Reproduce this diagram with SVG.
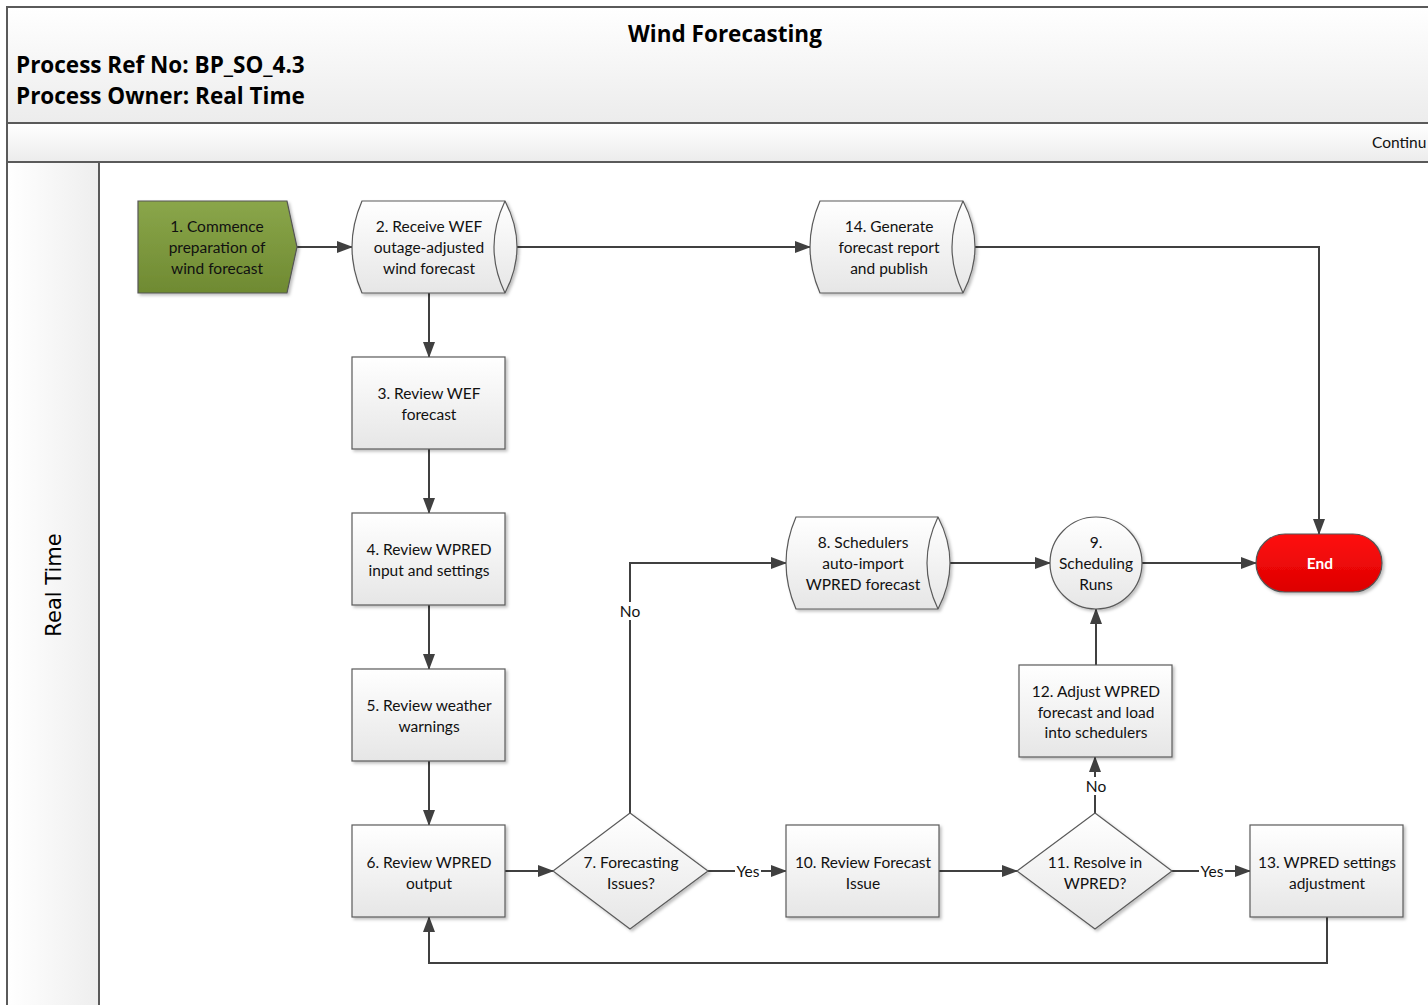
<svg xmlns="http://www.w3.org/2000/svg" width="1428" height="1005" viewBox="0 0 1428 1005">
<style>
.frame{fill:none;stroke:#5a5a5a;stroke-width:2}
.node{stroke:#5a5a5a;stroke-width:1.2;fill:url(#gNode);filter:url(#sh)}
.t{font-family:Lato,"Liberation Sans",sans-serif;font-size:15.5px;fill:#111;text-anchor:middle}
.lbl{font-family:Lato,"Liberation Sans",sans-serif;font-size:15.5px;fill:#111;text-anchor:middle}
.hd{font-family:"Open Sans","Liberation Sans",sans-serif;font-weight:bold;font-size:22.5px;fill:#000}
.c{fill:none;stroke:#404040;stroke-width:2}
</style>
<defs>
<linearGradient id="gNode" x1="0" y1="0" x2="0" y2="1"><stop offset="0" stop-color="#ffffff"/><stop offset="1" stop-color="#e6e6e6"/></linearGradient>
<linearGradient id="gHead" x1="0" y1="0" x2="0" y2="1"><stop offset="0" stop-color="#ffffff"/><stop offset="1" stop-color="#ececec"/></linearGradient>
<linearGradient id="gLane" x1="0" y1="0" x2="1" y2="0"><stop offset="0" stop-color="#ffffff"/><stop offset="1" stop-color="#eeeeee"/></linearGradient>
<linearGradient id="gGreen" x1="0" y1="0" x2="0" y2="1"><stop offset="0" stop-color="#8aa64a"/><stop offset="1" stop-color="#6f8a32"/></linearGradient>
<linearGradient id="gRed" x1="0" y1="0" x2="0" y2="1"><stop offset="0" stop-color="#ff1010"/><stop offset="1" stop-color="#dd0000"/></linearGradient>
<filter id="sh" x="-10%" y="-10%" width="130%" height="130%"><feDropShadow dx="2" dy="2" stdDeviation="1.5" flood-color="#000" flood-opacity="0.25"/></filter>
<marker id="ah" markerWidth="16" markerHeight="12" refX="15" refY="6" orient="auto" markerUnits="userSpaceOnUse"><path d="M0,0 L16,6 L0,12 z" fill="#404040"/></marker>
</defs>

<g id="frame">
<rect x="7" y="7" width="1440" height="1020" fill="#ffffff" stroke="none"/>
<rect x="7" y="7" width="1440" height="116" fill="url(#gHead)" stroke="none"/>
<rect x="7" y="123" width="1440" height="39" fill="url(#gHead)" stroke="none"/>
<rect x="7" y="162" width="92" height="860" fill="url(#gLane)" stroke="none"/>
<path class="frame" d="M1430,7 H7 V1010 M7,123 H1430 M7,162 H1430 M99,162 V1010"/>
<text class="hd" x="725" y="42" text-anchor="middle">Wind Forecasting</text>
<text class="hd" x="16" y="73">Process Ref No: BP_SO_4.3</text>
<text class="hd" x="16" y="104">Process Owner: Real Time</text>
<text x="1372" y="148" font-family="Lato,'Liberation Sans',sans-serif" font-size="15.5" fill="#111">Continu</text>
<text x="0" y="0" transform="translate(61,585) rotate(-90)" text-anchor="middle" font-family="'DejaVu Sans','Liberation Sans',sans-serif" font-size="21" fill="#000">Real Time</text>
</g>

<g id="connectors">
<path class="c" d="M297,247 H352" marker-end="url(#ah)"/>
<path class="c" d="M505,247 H810" marker-end="url(#ah)"/>
<path class="c" d="M963,247 H1319 V534" marker-end="url(#ah)"/>
<path class="c" d="M429,293 V357" marker-end="url(#ah)"/>
<path class="c" d="M429,449 V513" marker-end="url(#ah)"/>
<path class="c" d="M429,605 V669" marker-end="url(#ah)"/>
<path class="c" d="M429,761 V825" marker-end="url(#ah)"/>
<path class="c" d="M505,871 H553" marker-end="url(#ah)"/>
<path class="c" d="M708,871 H786" marker-end="url(#ah)"/>
<path class="c" d="M630,813 V563 H786" marker-end="url(#ah)"/>
<path class="c" d="M938,563 H1050" marker-end="url(#ah)"/>
<path class="c" d="M1142,563 H1256" marker-end="url(#ah)"/>
<path class="c" d="M939,871 H1017" marker-end="url(#ah)"/>
<path class="c" d="M1095,813 V757" marker-end="url(#ah)"/>
<path class="c" d="M1172,871 H1250" marker-end="url(#ah)"/>
<path class="c" d="M1096,665 V609" marker-end="url(#ah)"/>
<path class="c" d="M1327,917 V963 H429 V917" marker-end="url(#ah)"/>
<rect x="735" y="863" width="26" height="16" fill="#fff"/>
<text class="lbl" x="748" y="877">Yes</text>
<rect x="1199" y="863" width="26" height="16" fill="#fff"/>
<text class="lbl" x="1212" y="877">Yes</text>
<rect x="619" y="602" width="22" height="18" fill="#fff"/>
<text class="lbl" x="630" y="617">No</text>
<rect x="1085" y="777" width="22" height="18" fill="#fff"/>
<text class="lbl" x="1096" y="792">No</text>
</g>

<g id="n1">
<path d="M138,201 H287 L297,247 L287,293 H138 Z" fill="url(#gGreen)" stroke="#555" stroke-width="1.2" filter="url(#sh)"/>
<text class="t" x="217" y="232">1. Commence</text>
<text class="t" x="217" y="253">preparation of</text>
<text class="t" x="217" y="274">wind forecast</text>
</g>

<g id="n2">
<path class="node" d="M362,201 H505 Q529,247 505,293 H362 Q342,247 362,201 Z"/>
<path d="M505,201 Q483,247 505,293" fill="none" stroke="#5a5a5a" stroke-width="1.2"/>
<text class="t" x="429" y="232">2. Receive WEF</text>
<text class="t" x="429" y="253">outage-adjusted</text>
<text class="t" x="429" y="274">wind forecast</text>
</g>

<g id="n14">
<path class="node" d="M820,201 H963 Q987,247 963,293 H820 Q800,247 820,201 Z"/>
<path d="M963,201 Q941,247 963,293" fill="none" stroke="#5a5a5a" stroke-width="1.2"/>
<text class="t" x="889" y="232">14. Generate</text>
<text class="t" x="889" y="253">forecast report</text>
<text class="t" x="889" y="274">and publish</text>
</g>

<g id="n3">
<rect class="node" x="352" y="357" width="153" height="92"/>
<text class="t" x="429" y="399">3. Review WEF</text>
<text class="t" x="429" y="420">forecast</text>
</g>

<g id="n4">
<rect class="node" x="352" y="513" width="153" height="92"/>
<text class="t" x="429" y="555">4. Review WPRED</text>
<text class="t" x="429" y="576">input and settings</text>
</g>

<g id="n5">
<rect class="node" x="352" y="669" width="153" height="92"/>
<text class="t" x="429" y="711">5. Review weather</text>
<text class="t" x="429" y="732">warnings</text>
</g>

<g id="n6">
<rect class="node" x="352" y="825" width="153" height="92"/>
<text class="t" x="429" y="868">6. Review WPRED</text>
<text class="t" x="429" y="889">output</text>
</g>

<g id="n7">
<path class="node" d="M630,813 L708,871 L630,929 L553,871 Z"/>
<text class="t" x="631" y="868">7. Forecasting</text>
<text class="t" x="631" y="889">Issues?</text>
</g>

<g id="n8">
<path class="node" d="M796,517 H938 Q962,563 938,609 H796 Q776,563 796,517 Z"/>
<path d="M938,517 Q916,563 938,609" fill="none" stroke="#5a5a5a" stroke-width="1.2"/>
<text class="t" x="863" y="548">8. Schedulers</text>
<text class="t" x="863" y="569">auto-import</text>
<text class="t" x="863" y="590">WPRED forecast</text>
</g>

<g id="n9">
<circle class="node" cx="1096" cy="563" r="46"/>
<text class="t" x="1096" y="548">9.</text>
<text class="t" x="1096" y="569">Scheduling</text>
<text class="t" x="1096" y="590">Runs</text>
</g>

<g id="nEnd">
<rect x="1256" y="534" width="126" height="58" rx="29" ry="29" fill="url(#gRed)" stroke="#555" stroke-width="1.2" filter="url(#sh)"/>
<text x="1320" y="569" text-anchor="middle" font-family="Lato,'Liberation Sans',sans-serif" font-weight="bold" font-size="15.5" fill="#fff">End</text>
</g>

<g id="n10">
<rect class="node" x="786" y="825" width="153" height="92"/>
<text class="t" x="863" y="868">10. Review Forecast</text>
<text class="t" x="863" y="889">Issue</text>
</g>

<g id="n11">
<path class="node" d="M1095,813 L1172,871 L1095,929 L1017,871 Z"/>
<text class="t" x="1095" y="868">11. Resolve in</text>
<text class="t" x="1095" y="889">WPRED?</text>
</g>

<g id="n12">
<rect class="node" x="1019" y="665" width="153" height="92"/>
<text class="t" x="1096" y="697">12. Adjust WPRED</text>
<text class="t" x="1096" y="718">forecast and load</text>
<text class="t" x="1096" y="738">into schedulers</text>
</g>

<g id="n13">
<rect class="node" x="1250" y="825" width="153" height="92"/>
<text class="t" x="1327" y="868">13. WPRED settings</text>
<text class="t" x="1327" y="889">adjustment</text>
</g>
</svg>
